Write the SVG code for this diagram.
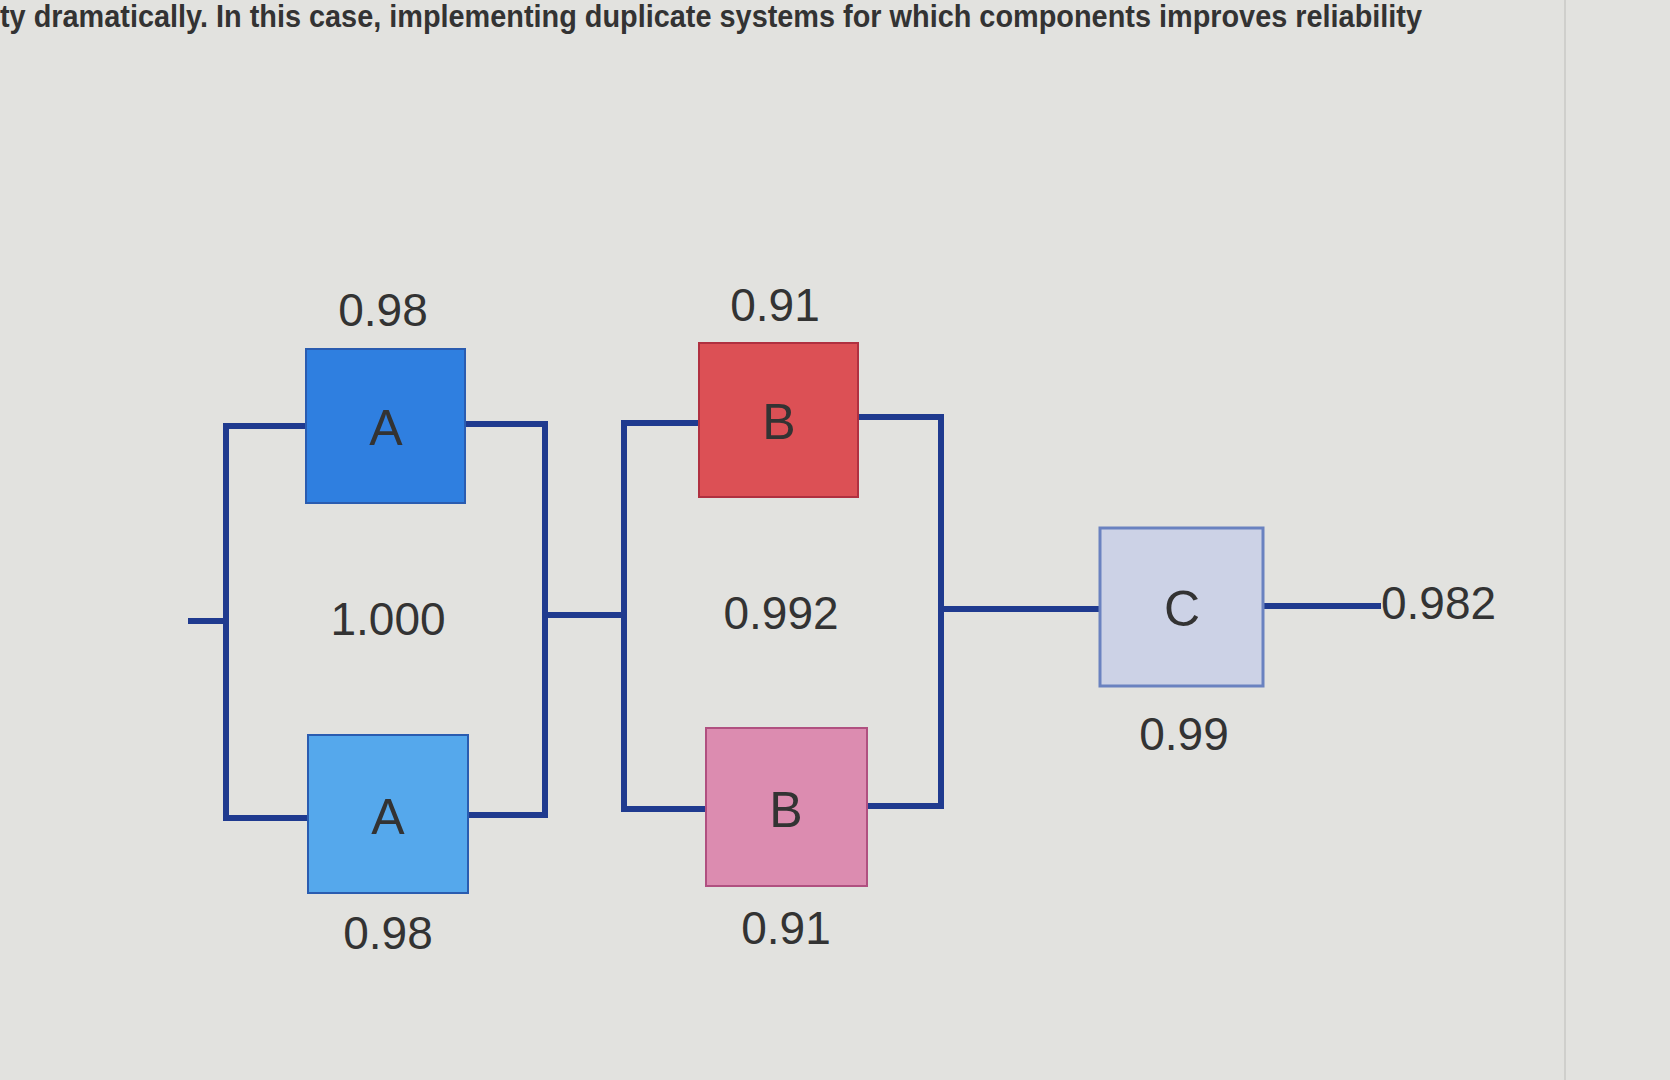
<svg xmlns="http://www.w3.org/2000/svg" width="1670" height="1080" viewBox="0 0 1670 1080">
<style>
text{font-family:"Liberation Sans",Arial,sans-serif;fill:#333}
.v{font-size:46px;text-anchor:middle}
.l{font-size:50px;text-anchor:middle}
.w{stroke:#1f3a8f;stroke-width:6;fill:none}
.b{stroke:#2a5cb0;stroke-width:2}
</style>
<rect width="1670" height="1080" fill="#e2e2df"/>
<line x1="1565" y1="0" x2="1565" y2="1080" stroke="#cfcfcc" stroke-width="2"/>
<text x="0" y="27" font-size="31" font-weight="bold" fill="#2a2a2a" textLength="1422" lengthAdjust="spacingAndGlyphs">ty dramatically. In this case, implementing duplicate systems for which components improves reliability</text>
<g id="connectors">
<path class="w" d="M188 621H226M306 426H226V818H308M465 424H545V815H468M545 615H624M699 423H624V809H706M858 417H941V806H867M941 609H1100M1263 606H1381"/>
</g>
<g id="A1"><rect class="b" x="306" y="349" width="159" height="154" fill="#2f7fe0"/><text class="l" x="386" y="445">A</text></g>
<g id="A2"><rect class="b" x="308" y="735" width="160" height="158" fill="#55a8ec"/><text class="l" x="388" y="834">A</text></g>
<g id="B1"><rect x="699" y="343" width="159" height="154" fill="#dc5055" stroke="#b03040" stroke-width="2"/><text class="l" x="779" y="439">B</text></g>
<g id="B2"><rect x="706" y="728" width="161" height="158" fill="#dc8cb0" stroke="#b05080" stroke-width="2"/><text class="l" x="786" y="827">B</text></g>
<g id="C"><rect x="1100" y="528" width="163" height="158" fill="#ccd2e6" stroke="#6a82c0" stroke-width="3"/><text class="l" x="1182" y="626">C</text></g>
<g id="labels">
<text class="v" x="383" y="326">0.98</text>
<text class="v" x="388" y="635">1.000</text>
<text class="v" x="388" y="949">0.98</text>
<text class="v" x="775" y="321">0.91</text>
<text class="v" x="781" y="629">0.992</text>
<text class="v" x="786" y="944">0.91</text>
<text class="v" x="1184" y="750">0.99</text>
<text x="1381" y="619" font-size="46">0.982</text>
</g>
</svg>
